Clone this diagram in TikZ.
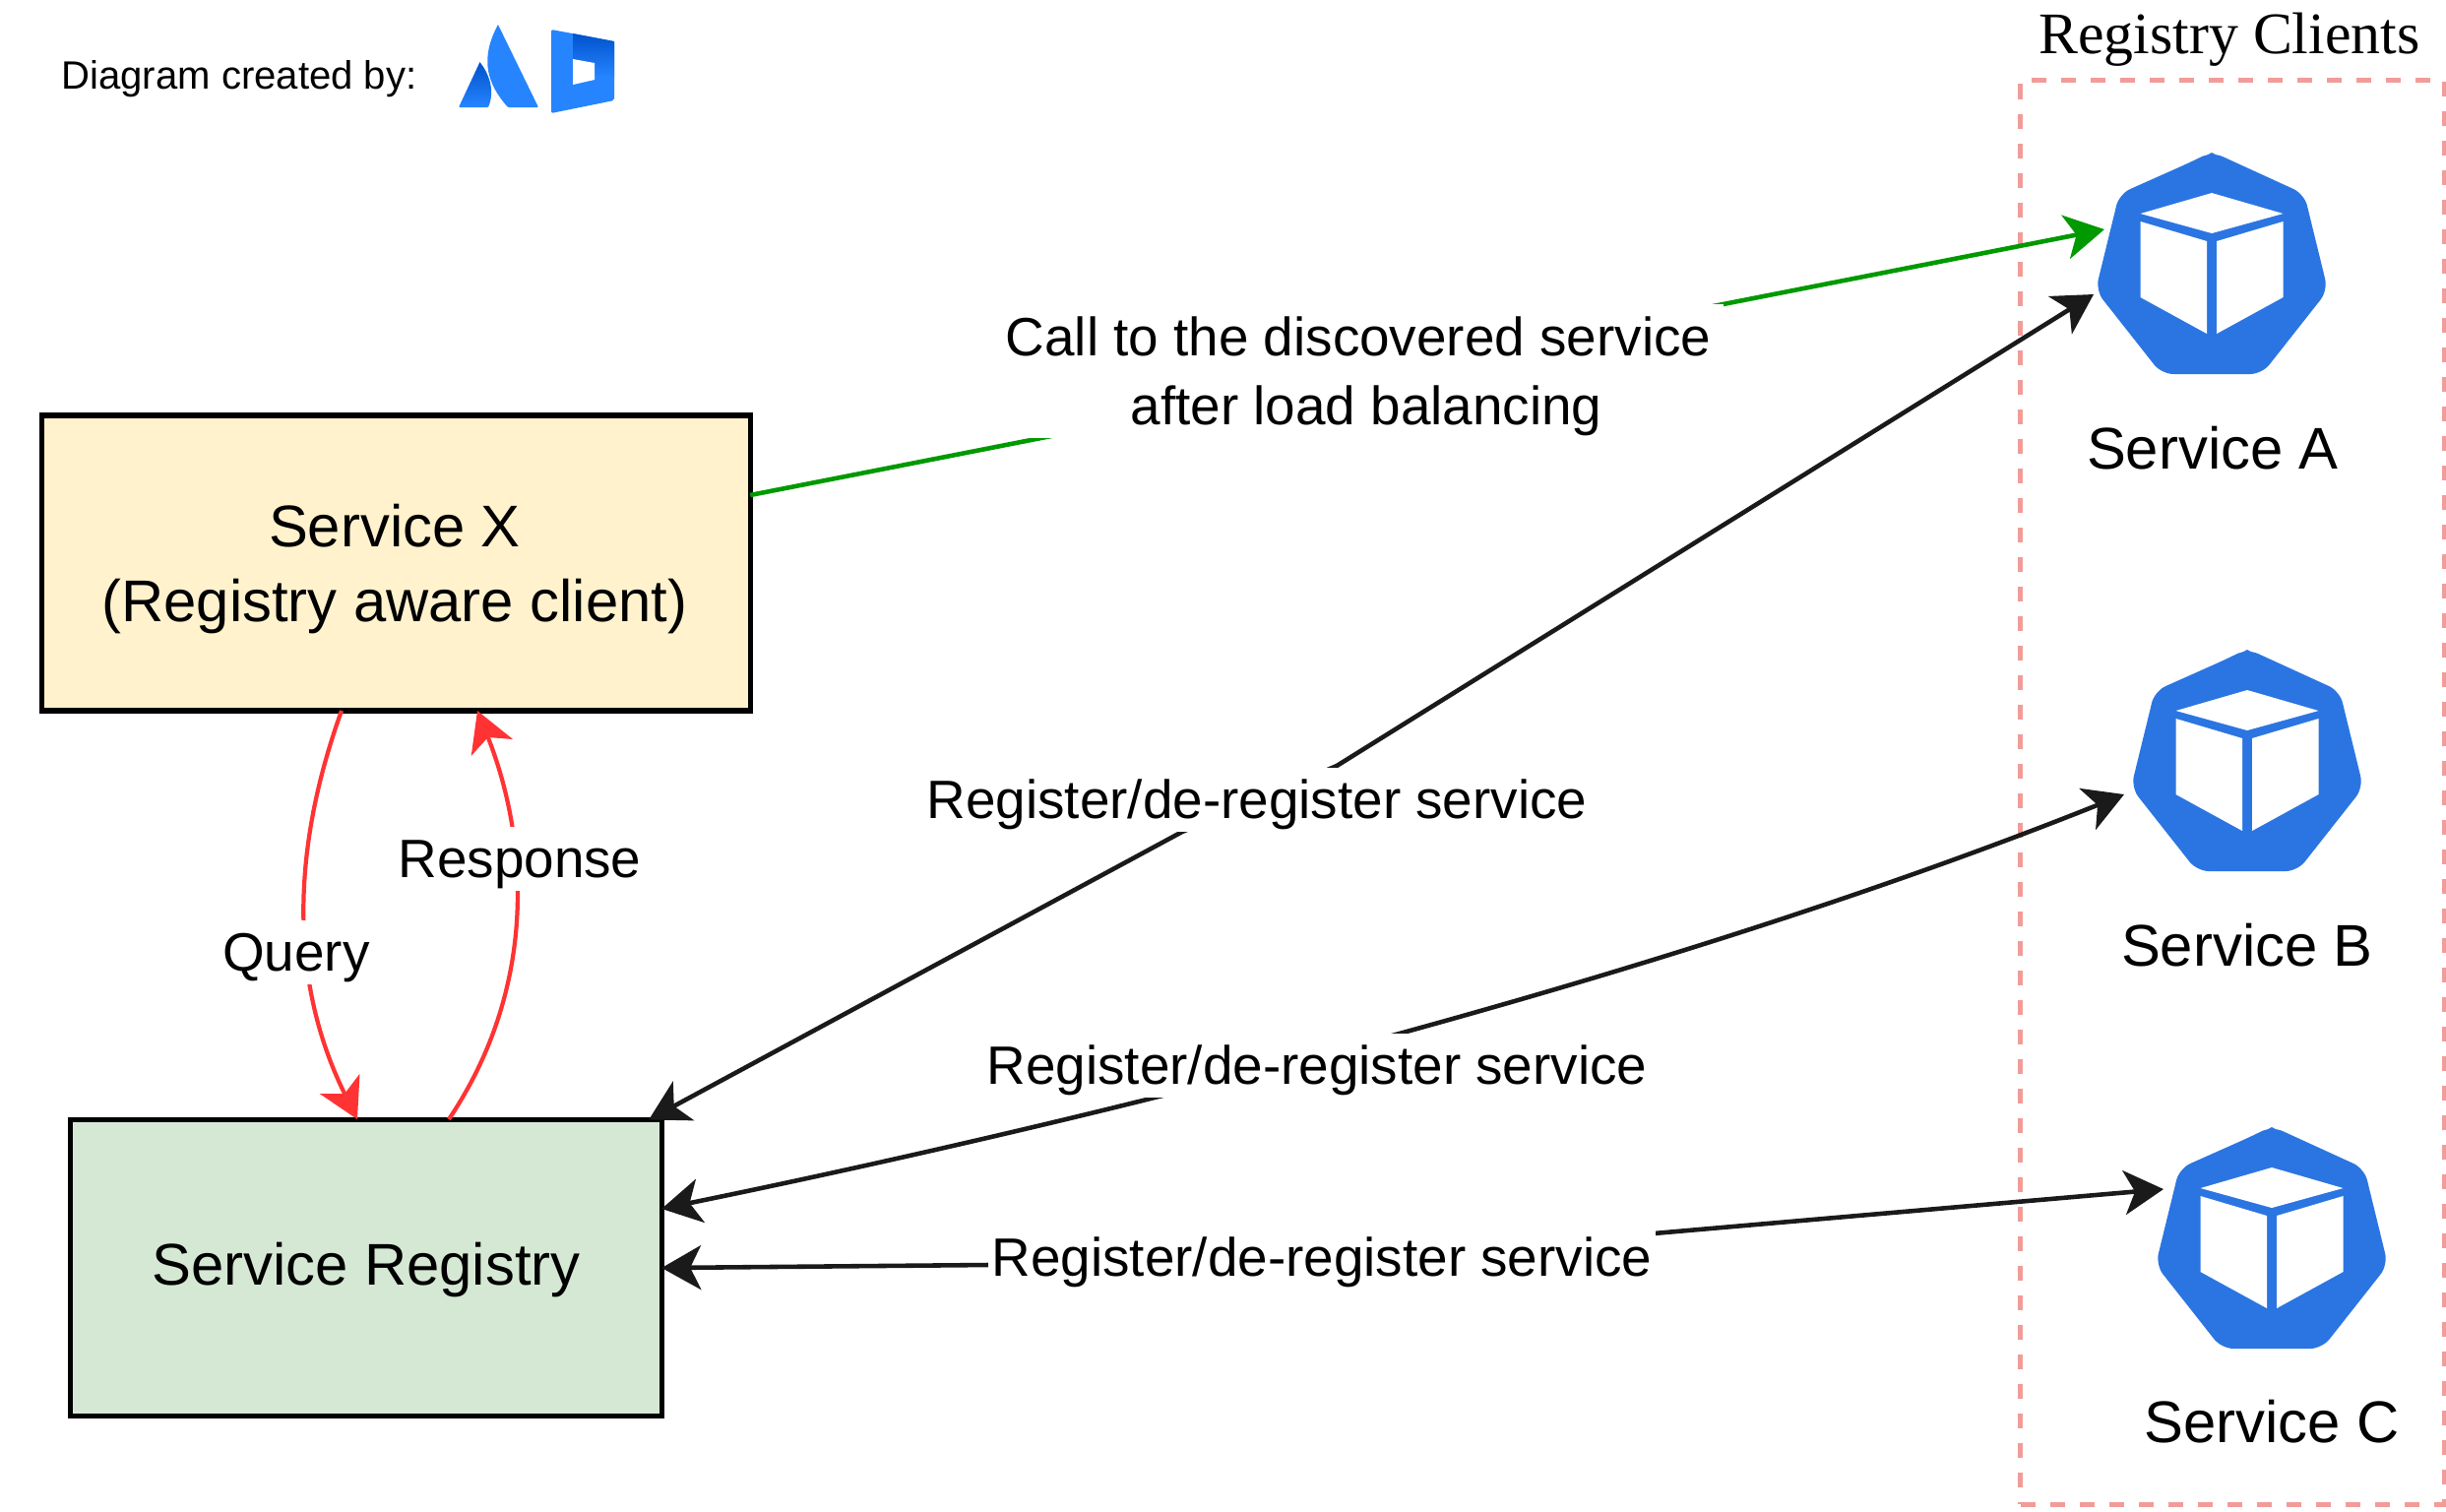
\documentclass[tikz,border=0pt]{standalone}
\usepackage{fontspec}
\setmainfont{Liberation Sans}
\newfontfamily\titlefont{Liberation Serif}
\usetikzlibrary{arrows.meta}
\definecolor{iconblue}{HTML}{2B75E2}
\definecolor{logoblue}{HTML}{2684FF}
\definecolor{logodark}{HTML}{0052CC}
\definecolor{queryred}{HTML}{FF3333}
\definecolor{callgreen}{HTML}{009900}
\definecolor{regline}{HTML}{1A1A1A}
\definecolor{clientdash}{HTML}{F19C99}
\definecolor{xfill}{HTML}{FFF2CC}
\definecolor{regfill}{HTML}{D5E8D4}
\tikzset{
  bigtip/.tip={Stealth[length=.4cm,width=.45cm,inset=.11cm]},
  svcbox/.style={draw=black,line width=1.5pt,outer sep=0pt},
  svctext/.style={align=center,font=\fontsize{17}{21.6}\selectfont},
  svclabel/.style={font=\fontsize{17}{20}\selectfont},
  linklabel/.style={fill=white,inner xsep=.04cm,inner ysep=.06cm,text height=.46cm,text depth=.07cm,
    font=\fontsize{15.6}{19.9}\selectfont},
  regarrow/.style={bigtip-bigtip,regline,line width=1.3pt},
  redarrow/.style={-bigtip,queryred,line width=1.2pt},
  svcicon/.pic={
    \fill[iconblue,rounded corners=.12cm] (-20,9) -- (0,-1) -- (94,42) -- (118,140) -- (51,225)
      -- (-51,225) -- (-118,140) -- (-94,42) -- cycle;
    \fill[iconblue] (-15,8) -- (0,0) -- (15,8) -- cycle;
    \fill[white] (0,41) -- (72.5,62) -- (0,82) -- (-72.5,62) -- cycle;
    \fill[white] (-72.5,70) -- (-5,90) -- (-5,184) -- (-72.5,147) -- cycle;
    \fill[white] (72.5,70) -- (5,90) -- (5,184) -- (72.5,147) -- cycle;
  }
}
\begin{document}
\begin{tikzpicture}[x=0.01cm,y=-0.01cm]
  \useasboundingbox (0,0) rectangle (2485,1535);

  \node[font=\fontsize{11.4}{14}\selectfont] (createdby) at (243,80) {Diagram created by:};
  \shade[top color=logodark,bottom color=logoblue,rounded corners=.01cm]
    (487.5,63) .. controls (497,75) and (503,92) .. (496,109) -- (466,109) -- (487.5,63);
  \fill[logoblue,rounded corners=.01cm] (506,25) -- (547,109) -- (516,109)
    .. controls (495,85) and (487,60) .. (506,25);
  \fill[logoblue,rounded corners=.02cm] (560,30) -- (624,42) -- (624,102) -- (560,115) -- cycle;
  \shade[top color=logodark,bottom color=logoblue] (582,34) -- (624,42) -- (624,78) -- (582,78) -- cycle;
  \fill[white] (582,60) -- (604,64) -- (604,81) -- (582,86) -- cycle;

  \node[svcbox,fill=xfill,minimum width=7.19cm,minimum height=3cm] (servX) at (402.5,572) {};
  \node[svctext] (servXtext) at ([yshift=-.06cm,xshift=-.015cm]servX.center)
    {Service X\\(Registry aware client)};
  \node[svcbox,fill=regfill,minimum width=6cm,minimum height=3.01cm] (registry) at (372,1288) {};
  \node[svctext] (registrytext) at ([yshift=-.02cm]registry.center) {Service Registry};

  \node[draw=clientdash,line width=1.42pt,dash pattern=on .15cm off .15cm,
    minimum width=4.3cm,minimum height=14.46cm] (clients) at (2268,805) {};
  \node[font=\titlefont\fontsize{17}{20}\selectfont] (clientstitle) at (2265,40) {Registry Clients};

  \pic at (2247,155) {svcicon};
  \pic at (2283,660) {svcicon};
  \pic at (2308,1145) {svcicon};
  \node[svclabel] (servA) at (2248,455) {Service A};
  \node[svclabel] (servB) at (2283,960) {Service B};
  \node[svclabel] (servC) at (2308,1444) {Service C};

  \coordinate (tipCall) at (2138,233);
  \coordinate (tipA) at (2127,299);
  \coordinate (tipB) at (2158,807);
  \coordinate (tipC) at (2198,1208);

  \draw[-bigtip,callgreen,line width=1.3pt] ([yshift=.69cm]servX.east) -- (tipCall);
  \draw[regarrow] ([xshift=-.13cm]registry.north east) -- (1201,845) -- (1358,778) -- (tipA);
  \draw[regarrow] ([yshift=.6cm]registry.east) .. controls (1140,1132) and (1700,990) .. (tipB);
  \draw[regarrow] (registry.east) -- (1003,1285) -- (1680,1253) -- (tipC);
  \draw[redarrow] (347,722) .. controls (290,880) and (300,1010) .. (363,1137);
  \draw[redarrow] (456,1137) .. controls (548,1000) and (536,850) .. (485,722);

  \node[linklabel,align=center,text height=,text depth=,inner xsep=.13cm,inner ysep=.02cm] (callLabel) at (1380,377)
    {\rule{0pt}{.5cm}Call to the discovered service\\\hspace*{.16cm}after load balancing};
  \node[linklabel] (regLabelA) at (1277,812) {Register/de-register service};
  \node[linklabel] (regLabelB) at (1338,1082) {Register/de-register service};
  \node[linklabel] (regLabelC) at (1343,1277) {Register/de-register service};
  \node[linklabel] (queryLabel) at (301,967) {Query};
  \node[linklabel] (responseLabel) at (528,872) {Response};
\end{tikzpicture}
\end{document}
